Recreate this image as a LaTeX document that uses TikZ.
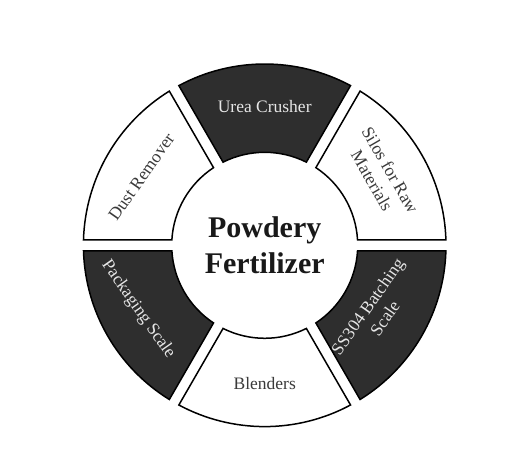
\documentclass[tikz,border=0pt]{standalone}
\usepackage{fontspec}
\setmainfont{Liberation Serif}
\usetikzlibrary{calc}
\definecolor{segdark}{HTML}{2E2E2E}
\definecolor{txtdark}{HTML}{3A3A3A}
\definecolor{txtlight}{HTML}{E6E6E6}
\tikzset{
  segwhite/.style={draw=black,line width=1.5pt,fill=white},
  segblack/.style={draw=black,line width=1.5pt,fill=segdark},
  lbl/.style={font=\fontsize{17.5}{21}\selectfont,align=center,inner sep=0pt},
  lbldark/.style={lbl,text=txtdark},
  lbllight/.style={lbl,text=txtlight},
  centertxt/.style={font=\bfseries\fontsize{30}{36.5}\selectfont,align=center,text=black!90}
}
\newcommand{\wheelsector}[3]{%
  \path[#3] ($(C)+(#1+1.74:181.3)$) arc[start angle=#1+1.74, end angle=#2-1.74, radius=181.3]
    -- ($(C)+(#2-3.39:93)$) arc[start angle=#2-3.39, end angle=#1+3.39, radius=93] -- cycle;}
\begin{document}
\begin{tikzpicture}[x=1pt,y=1pt]
\useasboundingbox (0,0) rectangle (508,471);
\fill[white] (0,0) rectangle (508,471);
\coordinate (C) at (264.7,225.7);
\wheelsector{0}{60}{segwhite}
\wheelsector{60}{120}{segblack}
\wheelsector{120}{180}{segwhite}
\wheelsector{180}{240}{segblack}
\wheelsector{240}{300}{segwhite}
\wheelsector{300}{360}{segblack}
\node[lbldark,rotate=-60] (silos) at ($(C)+(31:136)$) {Silos for Raw\\Materials};
\node[lbllight] (urea) at ($(C)+(90:139)$) {Urea Crusher};
\node[lbldark,rotate=55] (dust) at ($(C)+(151:141)$) {Dust Remover};
\node[lbllight,rotate=-55] (pack) at ($(C)+(207:142)$) {Packaging Scale};
\node[lbldark] (blend) at ($(C)+(270:138)$) {Blenders};
\node[lbllight,rotate=55] (ss) at ($(C)+(-31:130)$) {SS304 Batching\\Scale};
\node[centertxt] (center) at (C) {Powdery\\Fertilizer};
\end{tikzpicture}
\end{document}
